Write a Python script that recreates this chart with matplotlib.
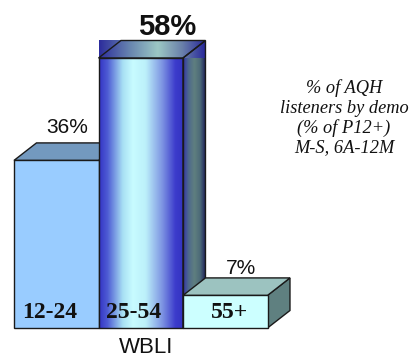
import numpy as np
import matplotlib.pyplot as plt
from matplotlib.patches import Polygon
from matplotlib.colors import LinearSegmentedColormap

# Share of AQH listeners by demo
demos = ["12-24", "25-54", "55+"]
shares = [36, 58, 7]
station = "WBLI"
note = "% of AQH\nlisteners by demo\n(% of P12+)\nM-S, 6A-12M"

W_PX, H_PX, DPI = 417, 360, 100
fig = plt.figure(figsize=(W_PX / DPI, H_PX / DPI), dpi=DPI)
ax = fig.add_axes([0, 0, 1, 1])

# axis scale: 1 x-unit per bar slot, y in percent
XMIN, XMAX = -0.6657, -0.6657 + W_PX / 84.5
YMIN, YMAX = -6.874, 70.46
DX = 0.266   # depth offset in x units
DY = 3.76    # depth offset in percent units
EDGE = "#1a1a1a"
LW = 1.0


def grad_fill(poly_pts, stops, zorder):
    """Fill a polygon with a horizontal colour gradient."""
    pts = np.asarray(poly_pts)
    extent = [pts[:, 0].min(), pts[:, 0].max(), pts[:, 1].min(), pts[:, 1].max()]
    cmap = LinearSegmentedColormap.from_list("g", stops)
    img = np.linspace(0, 1, 256)[None, :]
    clip = Polygon(pts, closed=True, facecolor="none", edgecolor="none", transform=ax.transData)
    ax.add_patch(clip)
    im = ax.imshow(img, cmap=cmap, extent=extent, aspect="auto",
                   interpolation="bilinear", zorder=zorder, origin="lower")
    im.set_clip_path(clip)


def faces(i, v):
    x0, x1 = i - 0.5, i + 0.5
    front = [(x0, 0), (x1, 0), (x1, v), (x0, v)]
    top = [(x0, v), (x1, v), (x1 + DX, v + DY), (x0 + DX, v + DY)]
    side = [(x1, 0), (x1 + DX, DY), (x1 + DX, v + DY), (x1, v)]
    return front, top, side


def outline(pts, z):
    ax.add_patch(Polygon(pts, closed=True, facecolor="none", edgecolor=EDGE, lw=LW, zorder=z))


# bar 1: flat light blue
f, t, s = faces(0, shares[0])
ax.add_patch(Polygon(s, closed=True, facecolor="#5F7F9F", edgecolor=EDGE, lw=LW, zorder=1))
ax.add_patch(Polygon(t, closed=True, facecolor="#7399BF", edgecolor=EDGE, lw=LW, zorder=1))
ax.add_patch(Polygon(f, closed=True, facecolor="#99CCFF", edgecolor=EDGE, lw=LW, zorder=1))

# bar 2: metallic gradient column
f, t, s = faces(1, shares[1])
front_stops = [(0.0, "#3333c4"), (0.1, "#4e5cd4"), (0.28, "#a8e0f4"), (0.4, "#c8fcff"),
               (0.55, "#bcf0fa"), (0.75, "#7c92e2"), (0.9, "#3c3ccc"), (1.0, "#3333c0")]
top_stops = [(0.0, "#2c2c9c"), (0.3, "#6a88b0"), (0.55, "#9cc8c4"), (0.78, "#6a80aa"),
             (1.0, "#26269a")]
side_stops = [(0.0, "#3434a8"), (0.25, "#4e6a8c"), (0.5, "#5f7f7f"), (0.75, "#4c6a78"),
              (1.0, "#1a1a58")]
v2 = shares[1]
top_box = [(0.5, v2), (1.5 + DX, v2), (1.5 + DX, v2 + DY), (0.5, v2 + DY)]
grad_fill(s, side_stops, 2)
outline(s, 2.1)
grad_fill(top_box, top_stops, 2)
outline(t, 2.1)
grad_fill(f, front_stops, 2)
outline(f, 2.1)

# bar 3: flat pale cyan
f, t, s = faces(2, shares[2])
ax.add_patch(Polygon(s, closed=True, facecolor="#5F8080", edgecolor=EDGE, lw=LW, zorder=3))
ax.add_patch(Polygon(t, closed=True, facecolor="#9CC3C0", edgecolor=EDGE, lw=LW, zorder=3))
ax.add_patch(Polygon(f, closed=True, facecolor="#CCFFFF", edgecolor=EDGE, lw=LW, zorder=3))

# value labels
ax.text(0.13, shares[0] + 5.8, f"{shares[0]}%", ha="center", va="baseline",
        fontsize=15, family="Liberation Sans", color="#111111", zorder=5)
ax.text(1.31, shares[1] + 4.9, f"{shares[1]}%", ha="center", va="baseline",
        fontsize=21, fontweight="bold", family="Liberation Sans", color="#111111", zorder=5)
ax.text(2.19, shares[2] + 4.7, f"{shares[2]}%", ha="center", va="baseline",
        fontsize=15, family="Liberation Sans", color="#111111", zorder=5)

# demo names inside the bars
label_x = [-0.08, -0.08, 0.05]
for i, d in enumerate(demos):
    ax.text(i + label_x[i], 2.15, d, ha="center", va="baseline",
            fontsize=17, fontweight="bold", family="Liberation Serif", color="#111111", zorder=5)

# station name under the chart
ax.text(1.06, -5.35, station, ha="center", va="baseline",
        fontsize=16, family="Liberation Sans", color="#111111", zorder=5)

# survey note
ax.text(3.405, 45.1, note, ha="center", va="center", fontsize=13.2, style="italic",
        family="Liberation Serif", color="#111111", linespacing=1.18, zorder=5)

ax.set_xlim(XMIN, XMAX)
ax.set_ylim(YMIN, YMAX)
ax.axis("off")
fig.savefig("out.png", dpi=DPI)
